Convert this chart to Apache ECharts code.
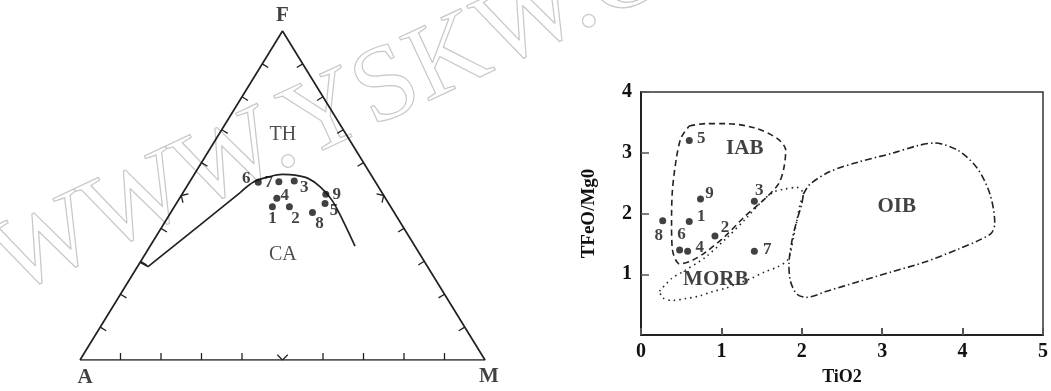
<!DOCTYPE html>
<html><head><meta charset="utf-8">
<script src="https://cdn.jsdelivr.net/npm/echarts@6/dist/echarts.min.js"></script>
<style>html,body{margin:0;padding:0;background:#fff}#c{width:1051px;height:391px}</style>
</head><body><div id="c"></div>
<script>
// ---------- Left: AFM ternary diagram (percent) ----------
const sampleIds = ['1','2','3','4','5','6','7','8','9'];
const afmA = [29.2, 25.0, 19.9, 26.8, 15.7, 29.0, 23.8, 20.2, 14.1];
const afmF = [46.6, 46.6, 54.4, 49.2, 47.6, 54.0, 54.2, 44.8, 50.4];
const afmM = [24.2, 28.4, 25.7, 24.0, 36.7, 17.0, 22.0, 35.0, 35.5];
// TH / CA dividing line: straight part (from the A-F edge) then the curved part
const boundaryA = [70.3, 69.0, 49.9, 35.0, 29.7, 25.8, 21.9, 18.8, 16.1, 14.4, 13.5, 13.9, 14.8];
const boundaryF = [29.7, 28.4, 41.0, 50.9, 54.3, 55.6, 56.4, 56.2, 55.2, 52.7, 48.6, 42.3, 34.6];
const boundaryM = [ 0.0,  2.6,  9.1, 14.1, 16.0, 18.6, 21.7, 25.0, 28.7, 32.9, 37.9, 43.8, 50.6];
const boundaryStraightCount = 4;
const ternaryTicks = [10, 20, 30, 40, 50, 60, 70, 80, 90];
const vertexNames = ['A', 'F', 'M'];
const regionNames = ['TH', 'CA'];
const regionA = [15.6, 33.9];
const regionF = [68.6, 32.0];
const regionM = [15.8, 34.1];

// ---------- Right: TiO2 vs TFeO/MgO ----------
const tio2    = [0.60, 0.92, 1.41, 0.58, 0.60, 0.48, 1.41, 0.27, 0.74];
const tfeoMgo = [1.87, 1.63, 2.20, 1.38, 3.20, 1.40, 1.38, 1.88, 2.24];
const iabX = [0.60,0.80,1.05,1.41,1.70,1.80,1.78,1.72,1.58,1.29,1.05,0.80,0.64,0.48,0.39,0.38,0.39,0.44,0.50];
const iabY = [3.44,3.48,3.48,3.41,3.23,3.04,2.77,2.51,2.29,1.95,1.63,1.36,1.23,1.17,1.41,1.84,2.37,2.91,3.25];
const morbX = [0.23,0.38,0.52,0.80,1.06,1.30,1.52,1.66,1.78,1.94,2.02,1.98,1.94,1.90,1.86,1.82,1.70,1.54,1.37,1.21,1.05,0.88,0.72,0.56,0.39,0.27];
const morbY = [0.72,0.93,1.04,1.28,1.59,1.91,2.22,2.36,2.40,2.43,2.32,2.16,1.89,1.63,1.36,1.23,1.12,1.04,0.93,0.85,0.77,0.71,0.64,0.60,0.57,0.61];
const oibX = [2.02,2.10,2.35,2.71,3.12,3.45,3.65,3.94,4.18,4.34,4.40,4.36,4.22,3.94,3.53,3.12,2.71,2.31,2.06,1.94,1.86,1.84,1.88,1.94,2.00];
const oibY = [2.32,2.48,2.69,2.85,2.99,3.12,3.16,3.04,2.75,2.32,1.84,1.68,1.57,1.41,1.20,1.04,0.88,0.72,0.62,0.67,0.88,1.15,1.57,1.89,2.16];
const fieldNames = ['IAB', 'MORB', 'OIB'];
const fieldX = [1.29, 0.93, 3.18];
const fieldY = [3.07, 0.91, 2.11];
const xTickValues = [0, 1, 2, 3, 4, 5];
const yTickValues = [0, 1, 2, 3, 4];
const watermarkText = 'WWW.YSKW.CN';

// ---------- presentation ----------
const SERIF = '"Liberation Serif","Times New Roman",serif';
const INK = '#111';
const ternLabelOffset = {'1':[0,12],'2':[6,12],'3':[10,7],'4':[8,-3],'5':[9,7],'6':[-12,-4],'7':[-10,1],'8':[7,11],'9':[11,0]};
const rightLabelOffset = {'1':[12,-5],'2':[10,-8],'3':[5,-11],'4':[12,-4],'5':[12,-2],'6':[2,-15],'7':[13,-2],'8':[-4,15],'9':[9,-5]};
const vertexOffset = {'A':[5,18],'F':[0,-15],'M':[4,17]};

function tern(a, f, m) { const s = a + f + m; return [(m + f / 2) / s, f / s]; }
function closed(xs, ys) { const d = xs.map((x, i) => [x, ys[i]]); d.push(d[0]); return d; }

const triangle = [tern(100,0,0), tern(0,100,0), tern(0,0,100), tern(100,0,0)];
const vertexData = vertexNames.map((n, i) => {
  const v = [0,0,0]; v[i] = 100;
  return {value: tern(v[0], v[1], v[2]), name: n,
    label: {show: true, formatter: n, position: 'inside', offset: vertexOffset[n],
      fontFamily: SERIF, fontWeight: 'bold', fontSize: 21, color: INK}};
});
const tickItems = [];
ternaryTicks.forEach(t => {
  tickItems.push(tern(100 - t, 0, t).concat([0, t]));
  tickItems.push(tern(100 - t, t, 0).concat([1, t]));
  tickItems.push(tern(0, 100 - t, t).concat([2, t]));
});
function renderTick(params, api) {
  const p = api.coord([api.value(0), api.value(1)]);
  const edge = api.value(2), t = api.value(3);
  const A = api.coord(tern(100,0,0)), F = api.coord(tern(0,100,0)), M = api.coord(tern(0,0,100));
  const ends = [[A, M], [A, F], [F, M]][edge];
  let dx = ends[1][0] - ends[0][0], dy = ends[1][1] - ends[0][1];
  const L = Math.hypot(dx, dy); dx /= L; dy /= L;
  let nx = -dy, ny = dx;
  const cx = (A[0] + F[0] + M[0]) / 3, cy = (A[1] + F[1] + M[1]) / 3;
  if ((cx - p[0]) * nx + (cy - p[1]) * ny < 0) { nx = -nx; ny = -ny; }
  const len = 7, st = {stroke: '#222', lineWidth: 1.3};
  const children = [];
  if (t === 50) {
    const k = len * 0.75;
    children.push({type: 'line', shape: {x1: p[0], y1: p[1], x2: p[0] + k * (nx + dx), y2: p[1] + k * (ny + dy)}, style: st});
    children.push({type: 'line', shape: {x1: p[0], y1: p[1], x2: p[0] + k * (nx - dx), y2: p[1] + k * (ny - dy)}, style: st});
  } else {
    children.push({type: 'line', shape: {x1: p[0], y1: p[1], x2: p[0] + len * nx, y2: p[1] + len * ny}, style: st});
  }
  return {type: 'group', children};
}

const ternSamples = sampleIds.map((id, i) => ({
  value: tern(afmA[i], afmF[i], afmM[i]), name: id,
  label: {show: true, formatter: id, position: 'inside', offset: ternLabelOffset[id],
    fontFamily: SERIF, fontWeight: 'bold', fontSize: 17, color: INK}
}));
const boundary = boundaryA.map((a, i) => tern(a, boundaryF[i], boundaryM[i]));
const boundaryStraight = boundary.slice(0, boundaryStraightCount);
const boundaryCurve = boundary.slice(boundaryStraightCount - 1);
const regionData = regionNames.map((n, i) => ({
  value: tern(regionA[i], regionF[i], regionM[i]), name: n,
  label: {show: true, formatter: n, position: 'inside', fontFamily: SERIF, fontSize: 20, color: '#222'}
}));

const rightSamples = sampleIds.map((id, i) => ({
  value: [tio2[i], tfeoMgo[i]], name: id,
  label: {show: true, formatter: id, position: 'inside', offset: rightLabelOffset[id],
    fontFamily: SERIF, fontWeight: 'bold', fontSize: 17, color: INK}
}));
const fieldData = fieldNames.map((n, i) => ({
  value: [fieldX[i], fieldY[i]], name: n,
  label: {show: true, formatter: n, position: 'inside', fontFamily: SERIF, fontWeight: 'bold', fontSize: 21, color: INK}
}));

const envStyle = (type) => ({color: '#222', width: 1.6, type: type});

const chart = echarts.init(document.getElementById('c'), null, {renderer: 'canvas'});
chart.setOption({
  animation: false,
  backgroundColor: '#fff',
  graphic: [{
    type: 'text', x: 23, y: 318, rotation: 25 * Math.PI / 180, silent: true, z: -10,
    style: {text: watermarkText, font: '107px "Liberation Serif"', fill: 'rgba(255,255,255,0)',
      stroke: '#c8c8c8', lineWidth: 1.2, verticalAlign: 'bottom', align: 'left'}
  }],
  grid: [
    {left: 80, top: 31, width: 405, height: 329, show: false},
    {left: 641, top: 92, width: 409, height: 250, show: true, borderColor: '#333', borderWidth: 1.5, backgroundColor: 'transparent'}
  ],
  xAxis: [
    {gridIndex: 0, type: 'value', min: 0, max: 1, show: false},
    {gridIndex: 1, type: 'value', min: xTickValues[0], max: xTickValues[xTickValues.length - 1], interval: 1,
      axisLine: {show: true, lineStyle: {color: '#222', width: 2}},
      axisTick: {show: true, inside: true, length: 7, lineStyle: {color: '#555', width: 2}},
      splitLine: {show: false},
      axisLabel: {fontFamily: SERIF, fontWeight: 'bold', fontSize: 20, color: INK, margin: 7},
      name: 'TiO2', nameLocation: 'middle', nameGap: 33,
      nameTextStyle: {fontFamily: SERIF, fontWeight: 'bold', fontSize: 18, color: INK}}
  ],
  yAxis: [
    {gridIndex: 0, type: 'value', min: 0, max: 1, show: false},
    {gridIndex: 1, type: 'value', min: yTickValues[0], max: yTickValues[yTickValues.length - 1], interval: 1,
      axisLine: {show: true, lineStyle: {color: '#222', width: 2}},
      axisTick: {show: true, inside: true, length: 8, lineStyle: {color: '#555', width: 1.5}},
      splitLine: {show: false},
      axisLabel: {fontFamily: SERIF, fontWeight: 'bold', fontSize: 20, color: INK, margin: 9, showMinLabel: false},
      name: 'TFeO/Mg0', nameLocation: 'middle', nameGap: 42, nameRotate: 90,
      nameTextStyle: {fontFamily: SERIF, fontWeight: 'bold', fontSize: 19, color: INK}}
  ],
  series: [
    {type: 'line', xAxisIndex: 0, yAxisIndex: 0, data: triangle, symbol: 'none',
      lineStyle: {color: '#222', width: 1.7}, silent: true},
    {type: 'custom', xAxisIndex: 0, yAxisIndex: 0, data: tickItems, renderItem: renderTick, silent: true},
    {type: 'line', xAxisIndex: 0, yAxisIndex: 0, data: boundaryStraight, symbol: 'none',
      lineStyle: {color: '#222', width: 1.7}, silent: true},
    {type: 'line', xAxisIndex: 0, yAxisIndex: 0, data: boundaryCurve, symbol: 'none', smooth: 0.35,
      lineStyle: {color: '#222', width: 1.7}, silent: true},
    {type: 'scatter', xAxisIndex: 0, yAxisIndex: 0, data: ternSamples, symbolSize: 7,
      itemStyle: {color: INK}, z: 5},
    {type: 'scatter', xAxisIndex: 0, yAxisIndex: 0, data: vertexData, symbolSize: 0},
    {type: 'scatter', xAxisIndex: 0, yAxisIndex: 0, data: regionData, symbolSize: 0},
    {type: 'line', xAxisIndex: 1, yAxisIndex: 1, data: closed(iabX, iabY), symbol: 'none', smooth: 0.3,
      lineStyle: envStyle([6, 4]), silent: true},
    {type: 'line', xAxisIndex: 1, yAxisIndex: 1, data: closed(morbX, morbY), symbol: 'none', smooth: 0.3,
      lineStyle: envStyle([1.5, 4]), silent: true},
    {type: 'line', xAxisIndex: 1, yAxisIndex: 1, data: closed(oibX, oibY), symbol: 'none', smooth: 0.3,
      lineStyle: envStyle([7, 3, 1.5, 3]), silent: true},
    {type: 'scatter', xAxisIndex: 1, yAxisIndex: 1, data: rightSamples, symbolSize: 7,
      itemStyle: {color: INK}, z: 5},
    {type: 'scatter', xAxisIndex: 1, yAxisIndex: 1, data: fieldData, symbolSize: 0}
  ]
});
</script>
</body></html>
